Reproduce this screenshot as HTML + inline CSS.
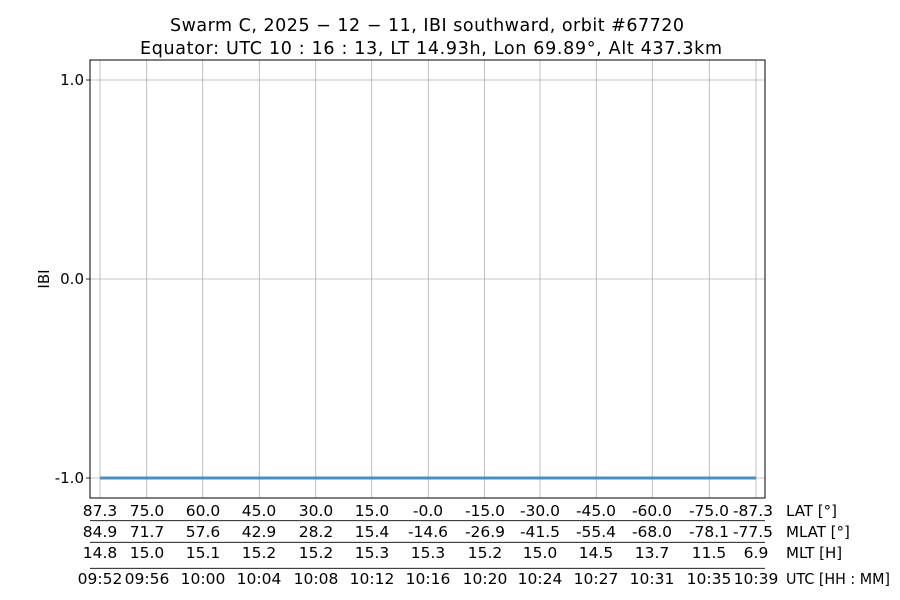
<!DOCTYPE html>
<html><head><style>body{margin:0;background:#fff}svg{display:block;font-family:"DejaVu Sans","Liberation Sans",sans-serif}</style></head><body>
<svg width="900" height="600" xmlns="http://www.w3.org/2000/svg">
<g stroke="#b0b0b0" stroke-width="0.8">
<line x1="100" y1="60" x2="100" y2="498"/><line x1="146.7" y1="60" x2="146.7" y2="498"/><line x1="202.7" y1="60" x2="202.7" y2="498"/><line x1="259.3" y1="60" x2="259.3" y2="498"/><line x1="315.7" y1="60" x2="315.7" y2="498"/><line x1="371.7" y1="60" x2="371.7" y2="498"/><line x1="428.3" y1="60" x2="428.3" y2="498"/><line x1="484.5" y1="60" x2="484.5" y2="498"/><line x1="540" y1="60" x2="540" y2="498"/><line x1="596.3" y1="60" x2="596.3" y2="498"/><line x1="652.3" y1="60" x2="652.3" y2="498"/><line x1="709.3" y1="60" x2="709.3" y2="498"/><line x1="756" y1="60" x2="756" y2="498"/>
<line x1="90" y1="80" x2="765" y2="80"/><line x1="90" y1="279" x2="765" y2="279"/><line x1="90" y1="478" x2="765" y2="478"/>
</g>
<line x1="100" y1="478" x2="756" y2="478" stroke="#4a8fc4" stroke-width="3"/>
<rect x="90" y="60" width="675" height="438" fill="none" stroke="#000" stroke-width="1"/>
<g stroke="#000" stroke-width="0.8"><line x1="86" y1="80" x2="90" y2="80"/><line x1="86" y1="279" x2="90" y2="279"/><line x1="86" y1="478" x2="90" y2="478"/>
<line x1="90" y1="520.7" x2="765" y2="520.7"/><line x1="90" y1="542.3" x2="765" y2="542.3"/><line x1="90" y1="568.3" x2="765" y2="568.3"/></g>
<g font-size="15" text-anchor="end"><text x="84" y="85">1.0</text><text x="84" y="284">0.0</text><text x="84" y="483">-1.0</text></g>
<text transform="translate(49,279) rotate(-90)" font-size="15" text-anchor="middle">IBI</text>
<g font-size="17.5"><text x="170" y="31" textLength="514" lengthAdjust="spacing">Swarm C,  2025 − 12 − 11,  IBI southward,  orbit #67720</text><text x="140" y="54" textLength="582" lengthAdjust="spacing">Equator:  UTC 10 : 16 : 13,  LT 14.93h,  Lon 69.89°,  Alt 437.3km</text></g>
<g font-size="15.5" text-anchor="middle">
<g transform="translate(0,516)"><text x="100">87.3</text><text x="147">75.0</text><text x="203">60.0</text><text x="259">45.0</text><text x="316">30.0</text><text x="372">15.0</text><text x="428">-0.0</text><text x="485">-15.0</text><text x="540">-30.0</text><text x="596">-45.0</text><text x="652">-60.0</text><text x="709">-75.0</text><text x="753">-87.3</text></g>
<g transform="translate(0,537)"><text x="100">84.9</text><text x="147">71.7</text><text x="203">57.6</text><text x="259">42.9</text><text x="316">28.2</text><text x="372">15.4</text><text x="428">-14.6</text><text x="485">-26.9</text><text x="540">-41.5</text><text x="596">-55.4</text><text x="652">-68.0</text><text x="709">-78.1</text><text x="753">-77.5</text></g>
<g transform="translate(0,558)"><text x="100">14.8</text><text x="147">15.0</text><text x="203">15.1</text><text x="259">15.2</text><text x="316">15.2</text><text x="372">15.3</text><text x="428">15.3</text><text x="485">15.2</text><text x="540">15.0</text><text x="596">14.5</text><text x="652">13.7</text><text x="709">11.5</text><text x="756">6.9</text></g>
<g transform="translate(0,584)"><text x="100">09:52</text><text x="147">09:56</text><text x="203">10:00</text><text x="259">10:04</text><text x="316">10:08</text><text x="372">10:12</text><text x="428">10:16</text><text x="485">10:20</text><text x="540">10:24</text><text x="596">10:27</text><text x="652">10:31</text><text x="709">10:35</text><text x="756">10:39</text></g>
</g>
<g font-size="15"><text x="786" y="516">LAT [°]</text><text x="786" y="537">MLAT [°]</text><text x="786" y="558">MLT [H]</text><text x="786" y="584" textLength="104" lengthAdjust="spacingAndGlyphs">UTC [HH : MM]</text></g>
</svg>
</body></html>
